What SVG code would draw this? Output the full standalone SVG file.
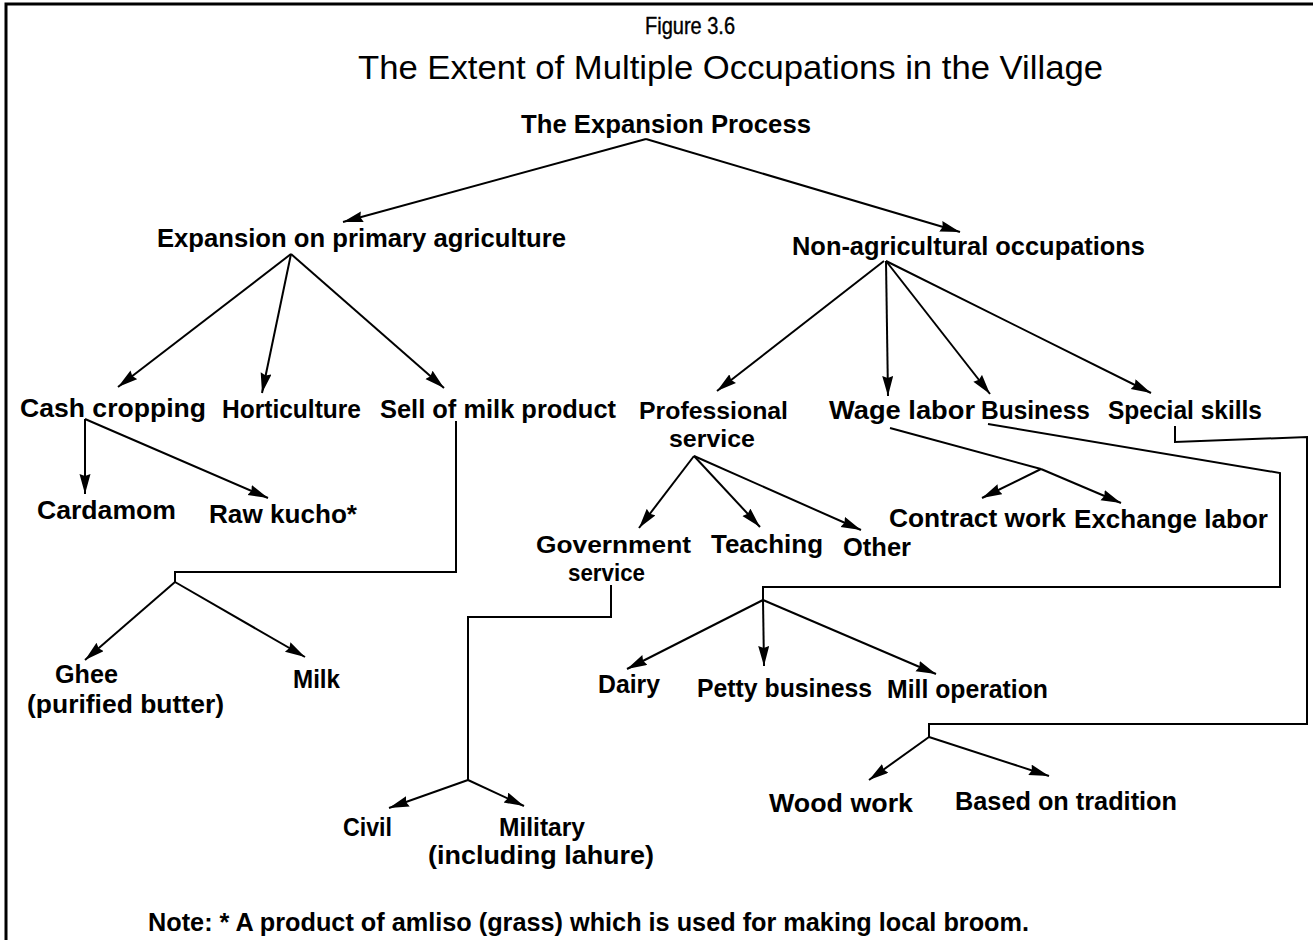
<svg xmlns="http://www.w3.org/2000/svg" width="1313" height="940" viewBox="0 0 1313 940">
  <style>
    .lbl { font-family: "Liberation Sans", Arial, Helvetica, sans-serif; font-size: 26px; font-weight: bold; fill: #000; }
    .two { font-size: 24px; }
    .ttl { font-family: "Liberation Sans", Arial, Helvetica, sans-serif; fill: #000; }
    .edge { fill: none; stroke: #000; stroke-width: 2; stroke-linejoin: miter; }
    .arr { marker-end: url(#head); }
    .frame { fill: none; stroke: #000; stroke-width: 3; }
  </style>
  <defs>
    <marker id="head" markerUnits="userSpaceOnUse" markerWidth="22" markerHeight="12" refX="20" refY="5.5" orient="auto">
      <path d="M0,0 L20,5.5 L0,11 L2,5.5 z" fill="#000"/>
    </marker>
  </defs>

  <rect width="1313" height="940" fill="#fff"/>

  <!-- page frame (top and left rules) -->
  <path class="frame" d="M6,940 V4 H1313"/>

  <!-- headings -->
  <g id="heading">
    <text class="ttl" x="645" y="34" font-size="24" textLength="90" lengthAdjust="spacingAndGlyphs" stroke="#000" stroke-width="0.4">Figure 3.6</text>
    <text class="ttl" x="358" y="79" font-size="34" textLength="745" lengthAdjust="spacingAndGlyphs">The Extent of Multiple Occupations in the Village</text>
  </g>

  <!-- connectors -->
  <g id="connectors">
    <!-- root -->
    <path class="edge arr" d="M646,139 L343,222"/>
    <path class="edge arr" d="M646,139 L960,232"/>
    <!-- expansion on primary agriculture -->
    <path class="edge arr" d="M291,254 L118,387"/>
    <path class="edge arr" d="M291,254 L262,393"/>
    <path class="edge arr" d="M291,254 L444,388"/>
    <!-- non-agricultural occupations -->
    <path class="edge arr" d="M884,261 L717,391"/>
    <path class="edge arr" d="M886,261 L888,396"/>
    <path class="edge arr" d="M886,261 L990,394"/>
    <path class="edge arr" d="M886,261 L1151,393"/>
    <!-- cash cropping -->
    <path class="edge arr" d="M85,419 L85,494"/>
    <path class="edge arr" d="M85,419 L268,498"/>
    <!-- sell of milk product -->
    <path class="edge" d="M456,421 V572 H175 V582"/>
    <path class="edge arr" d="M175,582 L85,660"/>
    <path class="edge arr" d="M175,582 L305,657"/>
    <!-- professional service -->
    <path class="edge arr" d="M694,456 L639,528"/>
    <path class="edge arr" d="M694,456 L760,527"/>
    <path class="edge arr" d="M694,456 L861,530"/>
    <!-- wage labor -->
    <path class="edge" d="M890,428 L1041,469"/>
    <path class="edge arr" d="M1041,469 L982,498"/>
    <path class="edge arr" d="M1041,469 L1121,503"/>
    <!-- business -->
    <path class="edge" d="M988,424 L1280,473 V587 H763 V600"/>
    <path class="edge arr" d="M763,600 L627,669"/>
    <path class="edge arr" d="M763,600 L764,666"/>
    <path class="edge arr" d="M763,600 L936,674"/>
    <!-- special skills -->
    <path class="edge" d="M1175,426 V442 L1307,437 V724 H929 V737"/>
    <path class="edge arr" d="M929,737 L869,780"/>
    <path class="edge arr" d="M929,737 L1049,776"/>
    <!-- government service -->
    <path class="edge" d="M611,585 V617 H468 V780"/>
    <path class="edge arr" d="M468,780 L389,808"/>
    <path class="edge arr" d="M468,780 L524,806"/>
  </g>

  <!-- nodes -->
  <g id="n-root"><text class="lbl" x="521" y="133" textLength="290" lengthAdjust="spacingAndGlyphs">The Expansion Process</text></g>
  <g id="n-agri"><text class="lbl" x="157" y="247" textLength="409" lengthAdjust="spacingAndGlyphs">Expansion on primary agriculture</text></g>
  <g id="n-nonagri"><text class="lbl" x="792" y="255" textLength="353" lengthAdjust="spacingAndGlyphs">Non-agricultural occupations</text></g>

  <g id="n-cash"><text class="lbl" x="20" y="417" textLength="186" lengthAdjust="spacingAndGlyphs">Cash cropping</text></g>
  <g id="n-horti"><text class="lbl" x="222" y="418" textLength="139" lengthAdjust="spacingAndGlyphs">Horticulture</text></g>
  <g id="n-milkprod"><text class="lbl" x="380" y="418" textLength="236" lengthAdjust="spacingAndGlyphs">Sell of milk product</text></g>
  <g id="n-prof">
    <text class="lbl two" x="639" y="419" textLength="149" lengthAdjust="spacingAndGlyphs">Professional</text>
    <text class="lbl two" x="669" y="447" textLength="86" lengthAdjust="spacingAndGlyphs">service</text>
  </g>
  <g id="n-wage"><text class="lbl" x="829" y="419" textLength="146" lengthAdjust="spacingAndGlyphs">Wage labor</text></g>
  <g id="n-business"><text class="lbl" x="981" y="419" textLength="109" lengthAdjust="spacingAndGlyphs">Business</text></g>
  <g id="n-skills"><text class="lbl" x="1108" y="419" textLength="154" lengthAdjust="spacingAndGlyphs">Special skills</text></g>

  <g id="n-cardamom"><text class="lbl" x="37" y="519" textLength="139" lengthAdjust="spacingAndGlyphs">Cardamom</text></g>
  <g id="n-kucho"><text class="lbl" x="209" y="523" textLength="148" lengthAdjust="spacingAndGlyphs">Raw kucho*</text></g>
  <g id="n-gov">
    <text class="lbl two" x="536" y="553" textLength="155" lengthAdjust="spacingAndGlyphs">Government</text>
    <text class="lbl two" x="568" y="581" textLength="77" lengthAdjust="spacingAndGlyphs">service</text>
  </g>
  <g id="n-teaching"><text class="lbl" x="711" y="553" textLength="112" lengthAdjust="spacingAndGlyphs">Teaching</text></g>
  <g id="n-other"><text class="lbl" x="843" y="556" textLength="68" lengthAdjust="spacingAndGlyphs">Other</text></g>
  <g id="n-contract"><text class="lbl" x="889" y="527" textLength="177" lengthAdjust="spacingAndGlyphs">Contract work</text></g>
  <g id="n-exchange"><text class="lbl" x="1074" y="528" textLength="194" lengthAdjust="spacingAndGlyphs">Exchange labor</text></g>

  <g id="n-ghee">
    <text class="lbl" x="55" y="683" textLength="63" lengthAdjust="spacingAndGlyphs">Ghee</text>
    <text class="lbl" x="27" y="713" textLength="197" lengthAdjust="spacingAndGlyphs">(purified butter)</text>
  </g>
  <g id="n-milk"><text class="lbl" x="293" y="688" textLength="47" lengthAdjust="spacingAndGlyphs">Milk</text></g>
  <g id="n-dairy"><text class="lbl" x="598" y="693" textLength="62" lengthAdjust="spacingAndGlyphs">Dairy</text></g>
  <g id="n-petty"><text class="lbl" x="697" y="697" textLength="175" lengthAdjust="spacingAndGlyphs">Petty business</text></g>
  <g id="n-mill"><text class="lbl" x="887" y="698" textLength="161" lengthAdjust="spacingAndGlyphs">Mill operation</text></g>

  <g id="n-civil"><text class="lbl" x="343" y="836" textLength="49" lengthAdjust="spacingAndGlyphs">Civil</text></g>
  <g id="n-military">
    <text class="lbl" x="499" y="836" textLength="86" lengthAdjust="spacingAndGlyphs">Military</text>
    <text class="lbl" x="428" y="864" textLength="226" lengthAdjust="spacingAndGlyphs">(including lahure)</text>
  </g>
  <g id="n-wood"><text class="lbl" x="769" y="812" textLength="144" lengthAdjust="spacingAndGlyphs">Wood work</text></g>
  <g id="n-tradition"><text class="lbl" x="955" y="810" textLength="222" lengthAdjust="spacingAndGlyphs">Based on tradition</text></g>

  <!-- footnote -->
  <g id="note"><text class="lbl" x="148" y="931" font-size="27" textLength="881" lengthAdjust="spacingAndGlyphs">Note: * A product of amliso (grass) which is used for making local broom.</text></g>
</svg>
